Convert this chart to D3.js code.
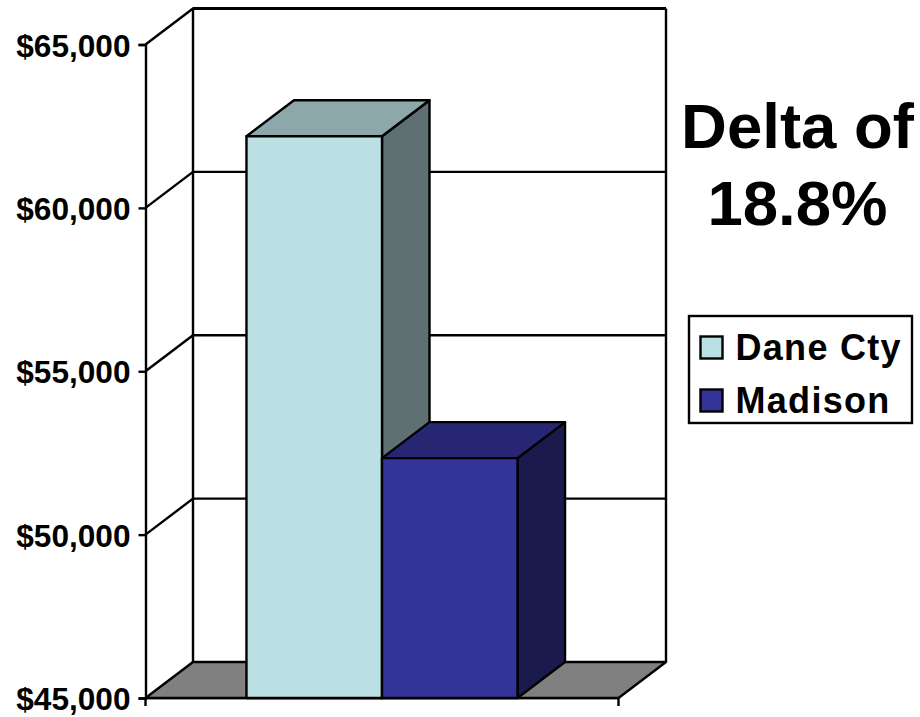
<!DOCTYPE html>
<html>
<head>
<meta charset="utf-8">
<script src="https://cdnjs.cloudflare.com/ajax/libs/d3/7.8.5/d3.min.js"></script>
<style>
    html, body { margin: 0; padding: 0; background: #fff; }
    svg { display: block; }
    text { font-family: "Liberation Sans", Arial, sans-serif; font-weight: bold; fill: #000; }
</style>
</head>
<body>
<div id="chart"></div>
<script>
var seriesNames = ["Dane Cty", "Madison"];
var seriesValues = [62190, 52340];
var seriesColors = ["#BBE0E3", "#333399"];
var tickValues = [45000, 50000, 55000, 60000, 65000];
var noteLines = ["Delta of", "18.8%"];

var width = 920, height = 717;
var depthX = 47.5, depthY = -36;
var lineWidth = 2.4;

var svg = d3.select("#chart").append("svg").attr("width", width).attr("height", height);

var y = d3.scaleLinear().domain([45000, 65000]).range([698, 44.5]);
var x = d3.scaleBand().domain(seriesNames).range([145.5, 618.5]).paddingInner(0).paddingOuter(0.745);

function back(px, py) {
    return [px + depthX, py + depthY];
}

function shade(color, k) {
    var c = d3.rgb(color);
    return d3.rgb(c.r * k, c.g * k, c.b * k).formatHex();
}

var polygon = d3.line();

function face(points, fill) {
    svg.append("path")
        .attr("d", polygon(points) + "Z")
        .attr("fill", fill)
        .attr("stroke", "#000")
        .attr("stroke-width", lineWidth)
        .attr("stroke-linejoin", "round");
}

var x0 = x.range()[0], x1 = x.range()[1];
var yBase = y(45000), yTop = y(65000);

// gridlines across the side wall and back wall
var grid = svg.append("g").attr("stroke", "#000").attr("stroke-width", lineWidth).attr("fill", "none");
tickValues.slice(1).forEach(function (v) {
    var a = back(x0, y(v)), b = back(x1, y(v));
    grid.append("path").attr("d", polygon([[x0, y(v)], a, b]));
});

// floor, then the walls' upright edges
face([[x0, yBase], [x1, yBase], back(x1, yBase), back(x0, yBase)], "#808080");
grid.append("path").attr("d", polygon([back(x0, yBase), back(x0, yTop)]));
grid.append("path").attr("d", polygon([back(x1, yBase), back(x1, yTop)]));
grid.append("path").attr("d", polygon([back(x0, yTop), back(x1, yTop)])).attr("stroke-width", 3);

// front axis with ticks and dollar labels
var yAxis = d3.axisLeft(y)
    .tickValues(tickValues)
    .tickSize(7)
    .tickPadding(8)
    .tickFormat(d3.format("$,"));

var axisG = svg.append("g").attr("transform", "translate(" + x0 + ",0)").call(yAxis);
axisG.selectAll("path, line").attr("stroke", "#000").attr("stroke-width", lineWidth);
axisG.selectAll("text")
    .attr("font-size", 31.6)
    .attr("dy", "0.37em")
    .style("font-family", '"Liberation Sans", Arial, sans-serif')
    .style("font-weight", "bold");

// small drop ticks under the floor's front corners
grid.append("path").attr("d", polygon([[x0, yBase], [x0, yBase + 8]]));
grid.append("path").attr("d", polygon([[x1, yBase], [x1, yBase + 8]]));

// 3D columns: side and top first, then the front so it sits on top
seriesNames.forEach(function (name, i) {
    var left = x(name), right = left + x.bandwidth();
    var top = y(seriesValues[i]);
    var color = seriesColors[i];
    face([[right, top], back(right, top), back(right, yBase), [right, yBase]], shade(color, 0.5));
    face([[left, top], back(left, top), back(right, top), [right, top]], shade(color, 0.75));
    face([[left, top], [right, top], [right, yBase], [left, yBase]], color);
});

// bottom edge of the front face runs over the floor
grid.append("path").attr("d", polygon([[x0, yBase], [x1, yBase]]));

svg.selectAll(".note")
    .data(noteLines)
    .enter().append("text")
    .attr("class", "note")
    .attr("x", 797.5)
    .attr("y", function (d, i) { return 148 + i * 77; })
    .attr("text-anchor", "middle")
    .attr("font-size", 63.5)
    .text(function (d) { return d; });

// legend box
var legend = svg.append("g");
legend.append("rect")
    .attr("x", 689).attr("y", 316)
    .attr("width", 223).attr("height", 107)
    .attr("fill", "#fff").attr("stroke", "#000").attr("stroke-width", lineWidth);

var rows = legend.selectAll(".row")
    .data(seriesNames)
    .enter().append("g")
    .attr("class", "row")
    .attr("transform", function (d, i) { return "translate(700.5," + (336.5 + i * 53) + ")"; });

rows.append("rect")
    .attr("width", 22).attr("height", 22)
    .attr("fill", function (d, i) { return seriesColors[i]; })
    .attr("stroke", "#000").attr("stroke-width", lineWidth);

rows.append("text")
    .attr("x", 35)
    .attr("y", 23)
    .attr("font-size", 36)
    .attr("letter-spacing", 1.3)
    .text(function (d) { return d; });
</script>
</body>
</html>
